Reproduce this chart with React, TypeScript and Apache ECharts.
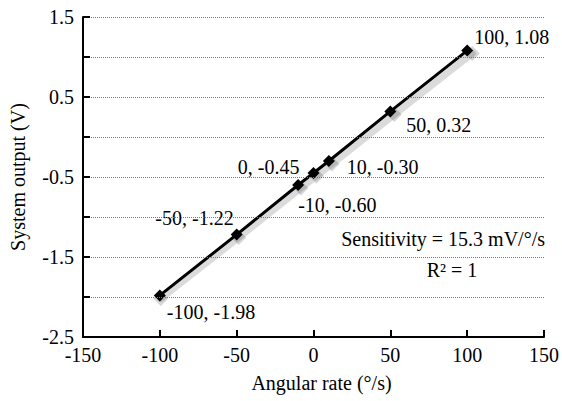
import React, { useEffect, useRef } from "react";
import * as echarts from "echarts";

const rates = [-100, -50, -10, 0, 10, 50, 100];
const outputs = [-1.98, -1.22, -0.6, -0.45, -0.3, 0.32, 1.08];
const pointLabels = ["-100, -1.98", "-50, -1.22", "-10, -0.60", "0, -0.45", "10, -0.30", "50, 0.32", "100, 1.08"];
// label placement per point: [align, dx, dy]
const labelPlace: [string, number, number][] = [
  ["left", 7, 17],
  ["right", -3, -17],
  ["left", 0, 20],
  ["right", -14, -6],
  ["left", 18, 6],
  ["left", 16, 14],
  ["left", 7, -14],
];
const annotation1 = "Sensitivity = 15.3 mV/°/s";
const annotation2 = "R² = 1";

const FONT = "Liberation Serif";

export default function App() {
  const ref = useRef<HTMLDivElement>(null);
  useEffect(() => {
    const chart = echarts.init(ref.current!, null, { renderer: "svg" });
    const seriesData = rates.map((x, i) => [x, outputs[i]]);
    const hiddenAxis = { show: false, type: "value" as const };
    chart.setOption({
      animation: false,
      backgroundColor: "#ffffff",
      textStyle: { fontFamily: FONT },
      grid: [
        { left: 81, right: 14, top: 17, bottom: 64, containLabel: false },
        { left: 83, right: 12, top: 20, bottom: 61, containLabel: false },
      ],
      xAxis: [
        {
          type: "value",
          min: -150,
          max: 150,
          interval: 50,
          name: "Angular rate (°/s)",
          nameLocation: "middle",
          nameGap: 36,
          nameTextStyle: { fontFamily: FONT, fontSize: 20, color: "#000", padding: [0, 0, 0, 16] },
          axisLine: { onZero: false, lineStyle: { color: "#000", width: 2 } },
          axisTick: { inside: true, length: 7, lineStyle: { color: "#000", width: 2 } },
          axisLabel: { fontFamily: FONT, fontSize: 20, color: "#000", margin: 8 },
          splitLine: { show: false },
          z: 5,
        },
        { ...hiddenAxis, gridIndex: 1, min: -150, max: 150 },
      ],
      yAxis: [
        {
          type: "value",
          min: -2.5,
          max: 1.5,
          interval: 0.5,
          name: "System output (V)",
          nameLocation: "middle",
          nameGap: 55,
          nameTextStyle: { fontFamily: FONT, fontSize: 20, color: "#000" },
          axisLine: { onZero: false, lineStyle: { color: "#000", width: 2 } },
          axisTick: { inside: true, length: 7, lineStyle: { color: "#000", width: 2 } },
          axisLabel: {
            fontFamily: FONT,
            fontSize: 20,
            color: "#000",
            margin: 9,
            formatter: (v: number) => (Math.abs(Math.round(v * 2)) % 2 === 1 ? v.toFixed(1) : ""),
          },
          splitLine: { show: true, lineStyle: { color: "#777", type: "dotted", width: 1 } },
          z: 5,
        },
        { ...hiddenAxis, gridIndex: 1, min: -2.5, max: 1.5 },
      ],
      series: [
        {
          type: "line",
          xAxisIndex: 1,
          yAxisIndex: 1,
          data: seriesData,
          symbol: "diamond",
          symbolSize: 15,
          lineStyle: { color: "rgba(0,0,0,0.14)", width: 7, cap: "round" },
          itemStyle: { color: "rgba(0,0,0,0.16)" },
          silent: true,
          z: 1,
        },
        {
          type: "line",
          data: rates.map((x, i) => ({
            value: [x, outputs[i]],
            label: {
              show: true,
              position: "inside",
              align: labelPlace[i][0],
              verticalAlign: "middle",
              offset: [labelPlace[i][1], labelPlace[i][2]],
              formatter: pointLabels[i],
              fontFamily: FONT,
              fontSize: 20,
              color: "#000",
            },
          })),
          symbol: "diamond",
          symbolSize: 12,
          lineStyle: { color: "#000", width: 3 },
          itemStyle: { color: "#000" },
          z: 3,
        },
      ],
      graphic: [
        {
          type: "text",
          x: 545,
          y: 239,
          style: {
            text: annotation1,
            fontFamily: FONT,
            fontSize: 20,
            fill: "#000",
            align: "right",
            verticalAlign: "middle",
          },
        },
        {
          type: "text",
          x: 452,
          y: 270,
          style: {
            text: annotation2,
            fontFamily: FONT,
            fontSize: 20,
            fill: "#000",
            align: "center",
            verticalAlign: "middle",
          },
        },
      ],
    });
    return () => chart.dispose();
  }, []);
  return <div ref={ref} style={{ position: "fixed", left: 0, top: 0, width: 562, height: 401 }} />;
}
